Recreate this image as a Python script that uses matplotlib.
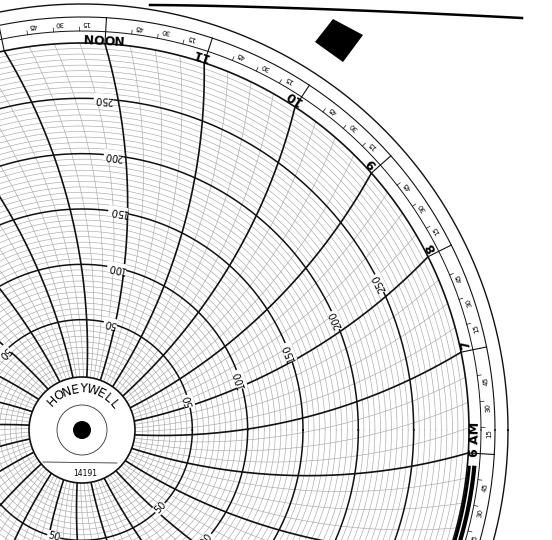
import numpy as np
import matplotlib
matplotlib.use("Agg")
import matplotlib.pyplot as plt
from matplotlib.patches import Circle, Polygon

# ---- chart data ----
hour_labels = ["6 AM", "7", "8", "9", "10", "11", "NOON"]
hour_offsets = [0, 1, 2, 3, 4, 5, 6]          # hours after 6 AM
minute_labels = ["15", "30", "45"]
value_labels = [50, 100, 150, 200, 250]
label_columns = [-6, -2, 2, 6, 10]             # hours after 6 AM where value labels are printed
value_max = 300
brand = "HONEYWELL"
part_no = "14191"

# ---- geometry ----
cx, cy = 82, 430
R_hub = 53
R = 387
R2 = 399
R3 = 413
R4 = 426
L = 580.0
theta6 = -3.4

def v2r(v):
    return R_hub + 2 + v * (R - R_hub - 2) / value_max

def phi(t, r):
    th = np.radians(theta6 + 15 * t)
    return th - (np.arccos(r / (2 * L)) - np.arccos(R / (2 * L)))

def xy(r, a):
    return cx + r * np.cos(a), cy - r * np.sin(a)

fig = plt.figure(figsize=(5.52, 5.40), dpi=100)
ax = fig.add_axes([0, 0, 1, 1])
ax.set_xlim(0, 552)
ax.set_ylim(540, 0)
ax.set_aspect("equal")
ax.axis("off")

# rings
aa = np.linspace(0, 2 * np.pi, 800)
for v in range(5, value_max, 5):
    r = v2r(v)
    x, y = xy(r, aa)
    if v % 50 == 0:
        ax.plot(x, y, color="#111", lw=1.1, zorder=3)
    else:
        ax.plot(x, y, color="#a8a8a8", lw=0.45, zorder=2)

# time lines
rr = np.linspace(R_hub, R, 200)
for q in range(96):
    t = q / 4.0
    x, y = xy(rr, phi(t, rr))
    if q % 4 == 0:
        ax.plot(x, y, color="#111", lw=1.2, zorder=4)
    else:
        ax.plot(x, y, color="#a8a8a8", lw=0.45, zorder=2)

# band circles
for rad, lw in [(R, 1.2), (R2, 0.7), (R3, 0.8), (R4, 1.0)]:
    x, y = xy(rad, aa)
    ax.plot(x, y, color="#111", lw=lw, zorder=4)

# band hour separators, ticks and labels
for q in range(96):
    t = q / 4.0
    a = np.radians(theta6 + 15 * t)
    if q % 4 == 0:
        ax.plot(*xy(np.array([R, R3]), np.array([a, a])), color="#111", lw=0.8, zorder=4)
    else:
        ax.plot(*xy(np.array([R2, R2 + 4]), np.array([a, a])), color="#111", lw=0.5, zorder=4)
        lab = minute_labels[q % 4 - 1]
        xa, ya = xy((R2 + R3) / 2 + 1, a - np.radians(0.9))
        ax.text(xa, ya, lab, fontsize=5, rotation=np.degrees(a) + 90,
                ha="center", va="center", rotation_mode="anchor", zorder=5)

for lab, h in zip(hour_labels, hour_offsets):
    d = 1.0
    if lab == "NOON":
        d = 0.5
    if lab == "6 AM":
        d = 2.0
    a = np.radians(theta6 + 15 * h + d)
    xa, ya = xy((R + R2) / 2 + 0.5, a)
    ax.text(xa, ya, lab, fontsize=9, fontweight="bold", rotation=np.degrees(a) + 90,
            ha="center", va="center", rotation_mode="anchor", zorder=5)

# value labels along columns
for t0 in label_columns:
    for v in value_labels:
        r = v2r(v)
        a = phi(t0 + 0.17, r)
        xa, ya = xy(r, a)
        ax.text(xa, ya, str(v), fontsize=7, rotation=np.degrees(a) + 90,
                ha="center", va="center", rotation_mode="anchor", zorder=6,
                bbox=dict(boxstyle="square,pad=0.05", fc="white", ec="none"))

# thick marker arcs near 6 AM
for rad, lw in [(389, 2.2), (394, 3.0)]:
    a2 = np.radians(np.linspace(-5.5, -20, 60))
    ax.plot(*xy(rad, a2), color="#000", lw=lw, zorder=6)

# hub
ax.add_patch(Circle((cx, cy), R_hub, fc="white", ec="#111", lw=1.2, zorder=7))
ax.add_patch(Circle((cx, cy), 25, fc="none", ec="#333", lw=0.6, zorder=8))
ax.add_patch(Circle((cx, cy), 9, fc="black", ec="none", zorder=8))
ax.plot([43, 117], [462, 463], color="#333", lw=0.6, zorder=8)
ax.text(85, 473, part_no, fontsize=5.5, ha="center", va="center", zorder=8)
angs = np.linspace(135, 39, len(brand))
for ch, ang in zip(brand, angs):
    a = np.radians(ang)
    xa, ya = xy(41, a)
    ax.text(xa, ya, ch, fontsize=9, rotation=ang - 90, ha="center", va="center",
            rotation_mode="anchor", zorder=8, family="DejaVu Sans")

# paper edge line and black mark
xs = np.linspace(150, 522, 50)
ax.plot(xs, 5 + 13 * ((xs - 150) / 372) ** 1.5, color="#000", lw=1.8, zorder=6)
ax.add_patch(Polygon([(315, 42), (333, 19), (363, 35), (343, 62)], closed=True,
                     fc="black", ec="none", zorder=6))

fig.savefig("out.png", dpi=100, facecolor="white")
